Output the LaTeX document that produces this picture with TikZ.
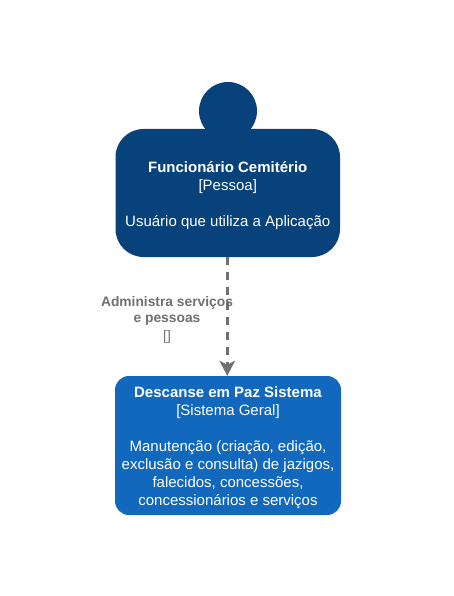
\documentclass[tikz,border=0pt]{standalone}
\usepackage{fontspec}
\setmainfont{Liberation Sans}
\usetikzlibrary{arrows.meta}
\definecolor{personblue}{HTML}{08427B}
\definecolor{systemblue}{HTML}{1168BD}
\definecolor{relgray}{HTML}{707070}
\tikzset{
  boxtext/.style={text=white,align=center,font=\fontsize{15}{18}\selectfont,inner sep=0pt},
  personbody/.style={fill=personblue,draw=none,rounded corners=28pt,minimum width=224.5pt,minimum height=128pt,inner sep=0pt},
  personhead/.style={circle,fill=personblue,draw=none,minimum size=58pt,inner sep=0pt},
  systembox/.style={fill=systemblue,draw=none,rounded corners=14pt,minimum width=226pt,minimum height=139pt,inner sep=0pt},
  rel/.style={draw=relgray,line width=3pt,dash pattern=on 7.5pt off 7.5pt,-{Stealth[length=15pt,width=15.5pt,inset=4pt]}},
  rellabel/.style={text=relgray,align=center,font=\fontsize{13.8}{17.2}\selectfont,inner sep=0pt},
}
\begin{document}
\begin{tikzpicture}[x=1pt,y=-1pt]
\useasboundingbox[fill=white] (0,0) rectangle (454,596);
\node[personhead] (head) at (228,111) {};
\node[personbody] (person) at (227.75,193) {};
\node[boxtext] (persontext) at (227.75,196) {\textbf{Funcionário Cemitério}\\{}[Pessoa]\\[18pt]Usuário que utiliza a Aplicação};
\node[systembox] (system) at (228,445.5) {};
\node[boxtext] (systemtext) at (228,447.5) {\textbf{Descanse em Paz Sistema}\\{}[Sistema Geral]\\[18pt]Manutenção (criação, edição,\\exclusão e consulta) de jazigos,\\falecidos, concessões,\\concessionários e serviços};
\draw[rel] ([xshift=-0.5pt]person.south) -- ([xshift=-0.75pt]system.north);
\node[rellabel] (label) at (167,320) {\textbf{Administra serviços}\\[-1pt]\textbf{e pessoas}\\[1pt]{}[]};
\end{tikzpicture}
\end{document}
